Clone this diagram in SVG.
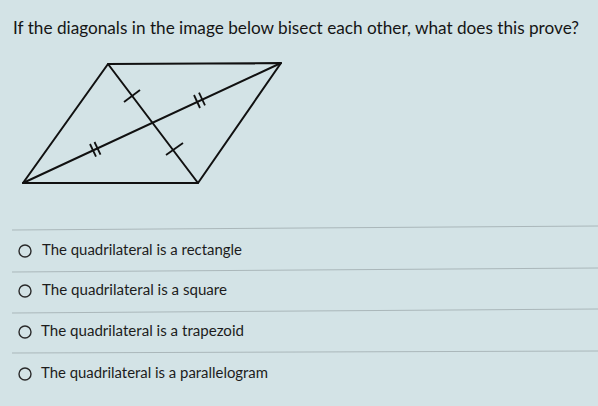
<svg xmlns="http://www.w3.org/2000/svg" width="598" height="406" viewBox="0 0 598 406">
  <style>
    .title { font-family: Lato, "Liberation Sans", sans-serif; font-size: 17.5px; fill: #151515; }
    .opt { font-family: Lato, "Liberation Sans", sans-serif; font-size: 15.5px; fill: #1c1c1c; }
    .fig { stroke: #111; stroke-width: 2; fill: none; stroke-linecap: round; stroke-linejoin: round; }
    .tick { stroke: #111; stroke-width: 1.8; fill: none; }
    .sep { stroke: #aab7ba; stroke-width: 1; }
    .radio { stroke: #2a2a2a; stroke-width: 1.4; fill: none; }
  </style>
  <rect x="0" y="0" width="598" height="406" fill="#d3e3e6"/>

  <g id="question">
    <text class="title" x="13" y="34" textLength="566" lengthAdjust="spacingAndGlyphs">If the diagonals in the image below bisect each other, what does this prove?</text>
  </g>

  <g id="figure">
    <polygon class="fig" points="108,64 281,63 198,183 23,183"/>
    <line class="fig" x1="108" y1="64" x2="198" y2="183"/>
    <line class="fig" x1="23" y1="183" x2="281" y2="63"/>
    <g id="ticks">
      <line class="tick" x1="124" y1="102" x2="140" y2="90"/>
      <line class="tick" x1="166" y1="155" x2="183" y2="143"/>
      <line class="tick" x1="194" y1="95" x2="200" y2="108"/>
      <line class="tick" x1="199" y1="92.7" x2="205" y2="105.3"/>
      <line class="tick" x1="90" y1="144" x2="96" y2="156.7"/>
      <line class="tick" x1="94.5" y1="142" x2="100.5" y2="154.6"/>
    </g>
  </g>

  <g id="separators">
    <line class="sep" x1="12" y1="230" x2="598" y2="226"/>
    <line class="sep" x1="12" y1="272" x2="598" y2="268"/>
    <line class="sep" x1="12" y1="313" x2="598" y2="309"/>
    <line class="sep" x1="12" y1="353" x2="598" y2="351"/>
  </g>

  <g id="option-rectangle">
    <circle class="radio" cx="25" cy="251" r="6"/>
    <text class="opt" x="42" y="255" textLength="200" lengthAdjust="spacingAndGlyphs">The quadrilateral is a rectangle</text>
  </g>
  <g id="option-square">
    <circle class="radio" cx="25" cy="291" r="6"/>
    <text class="opt" x="42" y="295" textLength="185" lengthAdjust="spacingAndGlyphs">The quadrilateral is a square</text>
  </g>
  <g id="option-trapezoid">
    <circle class="radio" cx="25" cy="332" r="6"/>
    <text class="opt" x="41" y="336" textLength="203" lengthAdjust="spacingAndGlyphs">The quadrilateral is a trapezoid</text>
  </g>
  <g id="option-parallelogram">
    <circle class="radio" cx="25" cy="374" r="6"/>
    <text class="opt" x="41" y="378" textLength="227" lengthAdjust="spacingAndGlyphs">The quadrilateral is a parallelogram</text>
  </g>
</svg>
